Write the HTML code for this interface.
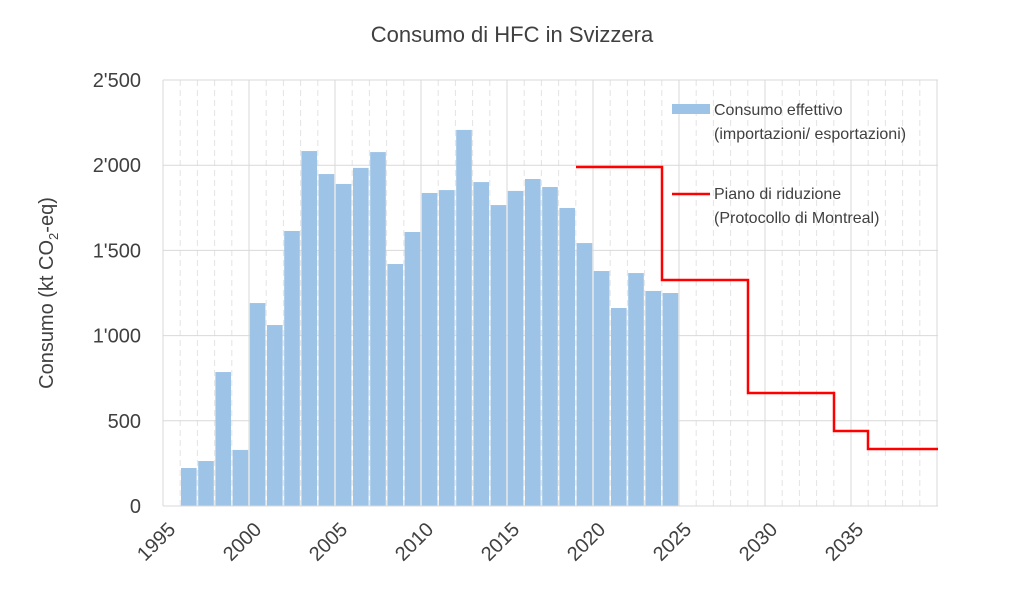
<!DOCTYPE html>
<html><head><meta charset="utf-8"><style>
html,body{margin:0;padding:0;background:#fff;}
svg{display:block;font-family:"Liberation Sans",sans-serif;}
</style></head><body>
<svg width="1024" height="593" viewBox="0 0 1024 593">
<text x="512" y="42" text-anchor="middle" font-size="22" fill="#404040">Consumo di HFC in Svizzera</text>
<text transform="rotate(-90 53 293)" x="53" y="293" text-anchor="middle" font-size="20" fill="#404040">Consumo (kt CO<tspan font-size="13" dy="5">2</tspan><tspan dy="-5">-eq)</tspan></text>
<script>
const ns="http://www.w3.org/2000/svg";
const svg=document.querySelector('svg');
function el(n,a,t){const e=document.createElementNS(ns,n);for(const k in a)e.setAttribute(k,a[k]);if(t!==undefined)e.textContent=t;svg.appendChild(e);return e;}
const X=y=>163+(y-1995)*17.2, Y=v=>506-v*0.1704;
for(let yr=1996;yr<=2039;yr++){ if((yr-1995)%5) el('line',{x1:X(yr),x2:X(yr),y1:80,y2:506,stroke:'#e3e3e3','stroke-dasharray':'6,4'});}
for(let yr=1995;yr<=2040;yr+=5){ el('line',{x1:X(yr),x2:X(yr),y1:80,y2:506,stroke:'#d9d9d9'});}
for(let v=0;v<=2500;v+=500){ el('line',{x1:163,x2:938,y1:Y(v),y2:Y(v),stroke:'#d9d9d9'});
 const lab=v==0?'0':(v>=1000?Math.floor(v/1000)+"'"+String(v%1000).padStart(3,'0'):String(v));
 el('text',{x:141,y:Y(v)+7,'text-anchor':'end','font-size':20,fill:'#404040'},lab);}
const d=[223,264,786,329,1191,1062,1614,2083,1948,1890,1984,2077,1420,1608,1837,1854,2207,1901,1766,1849,1919,1872,1749,1543,1379,1162,1367,1262,1250];
d.forEach((v,i)=>{const yr=1996+i;el('rect',{x:X(yr)+0.8,y:Y(v),width:15.6,height:506-Y(v),fill:'#9dc3e6'});});
el('line',{x1:163,x2:938,y1:506,y2:506,stroke:'#d9d9d9'});
el('line',{x1:163,x2:163,y1:80,y2:506,stroke:'#d9d9d9'});
el('path',{d:'M576 167H662V280H748V393H834V431H868V449H938',fill:'none',stroke:'#ff0000','stroke-width':2.5});
for(let yr=1995;yr<=2035;yr+=5){const x=X(yr)+3,y=520;el('text',{x:x,y:y,'text-anchor':'end','font-size':20,fill:'#404040',transform:`rotate(-45 ${x} ${y})`,dy:'0.75em'},String(yr));}
el('rect',{x:672,y:104,width:38,height:10,fill:'#9dc3e6'});
el('text',{x:714,y:115,'font-size':16,fill:'#404040'},'Consumo effettivo');
el('text',{x:714,y:139,'font-size':16,fill:'#404040'},'(importazioni/ esportazioni)');
el('line',{x1:672,x2:710,y1:194,y2:194,stroke:'#ff0000','stroke-width':2.5});
el('text',{x:714,y:199,'font-size':16,fill:'#404040'},'Piano di riduzione');
el('text',{x:714,y:223,'font-size':16,fill:'#404040'},'(Protocollo di Montreal)');
</script>
</svg>
</body></html>
